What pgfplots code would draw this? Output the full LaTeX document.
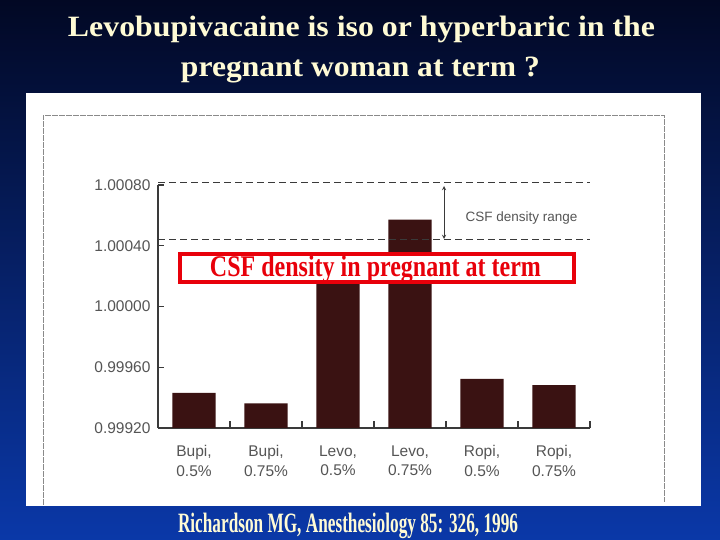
\documentclass[border=0pt]{standalone}
\usepackage{pgfplots}
\pgfplotsset{compat=1.18}
\usepackage{fontspec}
\usepackage{graphicx}
\setmainfont{Liberation Sans}
\newfontfamily\tnr{Liberation Serif}
\definecolor{bgtop}{HTML}{020824}
\definecolor{bgmid}{HTML}{0B2D92}
\definecolor{bgbot}{HTML}{0A38A8}
\definecolor{titlecol}{HTML}{FFFBD5}
\definecolor{boxred}{HTML}{E8000A}
\definecolor{barcol}{HTML}{3A1212}
\definecolor{axgray}{HTML}{3A3A3A}
\definecolor{labgray}{HTML}{555555}
\definecolor{framegray}{HTML}{8A8A8A}
\begin{document}
\begin{tikzpicture}[x=1pt,y=1pt]
\useasboundingbox (0,0) rectangle (720,540);
\shade[top color=bgtop, middle color=bgmid, bottom color=bgbot] (0,0) rectangle (720,540);
\fill[white] (26,34) rectangle (701,447);
\draw[framegray, line width=0.9pt, dash pattern=on 6pt off 1pt] (43,35) -- (43,425) -- (664,425) -- (664,38);
\begin{axis}[
  at={(158pt,112pt)}, anchor=south west,
  scale only axis, width=432pt, height=243pt,
  xmin=-0.5, xmax=5.5, ymin=0.9992, ymax=1.0008,
  y coord trafo/.code={\pgfmathparse{(#1-0.9992)*10000}},
  y coord inv trafo/.code={\pgfmathparse{#1/10000+0.9992}},
  axis x line=bottom, axis y line=left,
  axis line style={-, draw=axgray, line width=1.2pt},
  clip=false,
  xtick={0,1,2,3,4,5},
  xticklabels={{Bupi,\\0.5\%},{Bupi,\\0.75\%},{Levo,\\0.5\%},{Levo,\\0.75\%},{Ropi,\\0.5\%},{Ropi,\\0.75\%}},
  xticklabel style={align=center, font=\fontsize{15.5}{19.5}\selectfont, text=labgray, yshift=-14pt},
  minor xtick={0.5,1.5,2.5,3.5,4.5,5.5},
  major x tick style={draw=none},
  minor x tick style={draw=axgray, line width=1.2pt},
  tick align=inside, major tick length=6pt, minor tick length=7pt,
  ytick={0.9992,0.9996,1.0000,1.0004,1.0008},
  yticklabels={0.99920,0.99960,1.00000,1.00040,1.00080},
  yticklabel style={font=\fontsize{15.5}{15.5}\selectfont, text=labgray, xshift=-4pt},
  major y tick style={draw=axgray, line width=1.2pt},
]
\addplot[ybar, bar width=0.6, fill=barcol, draw=none] coordinates {
  (0,0.99943) (1,0.99936) (2,1.00025) (3,1.00056) (4,0.99952) (5,0.99948)};
\addplot[axgray, line width=1pt, dash pattern=on 7pt off 4pt] coordinates {(-0.5,1.0008) (5.5,1.0008)};
\addplot[axgray, line width=1pt, dash pattern=on 7pt off 4pt] coordinates {(-0.5,1.00043) (5.5,1.00043)};
\end{axis}
\draw[axgray, line width=0.9pt, <->, >=stealth] (444,354) -- (444,301);
\node[font=\fontsize{13.5}{13.5}\selectfont, text=labgray] at (521.5,322) {CSF density range};
\draw[boxred, line width=4pt, fill=white] (180,258) rectangle (574,286);
\node[anchor=base, text=boxred, inner sep=0pt] at (375.5,263) {\resizebox{331pt}{\height}{\tnr\bfseries\fontsize{30}{30}\selectfont CSF density in pregnant at term}};
\node[anchor=base, text=titlecol, inner sep=0pt] at (361.5,503) {\resizebox{587pt}{\height}{\tnr\bfseries\fontsize{29.5}{29.5}\selectfont Levobupivacaine is iso or hyperbaric in the}};
\node[anchor=base, text=titlecol, inner sep=0pt] at (360.5,463) {\resizebox{359pt}{\height}{\tnr\bfseries\fontsize{29.5}{29.5}\selectfont pregnant woman at term ?}};
\node[anchor=base, text=titlecol, inner sep=0pt] at (348,7) {\resizebox{340pt}{\height}{\tnr\bfseries\fontsize{28}{28}\selectfont Richardson MG, Anesthesiology 85: 326, 1996}};
\end{tikzpicture}
\end{document}
